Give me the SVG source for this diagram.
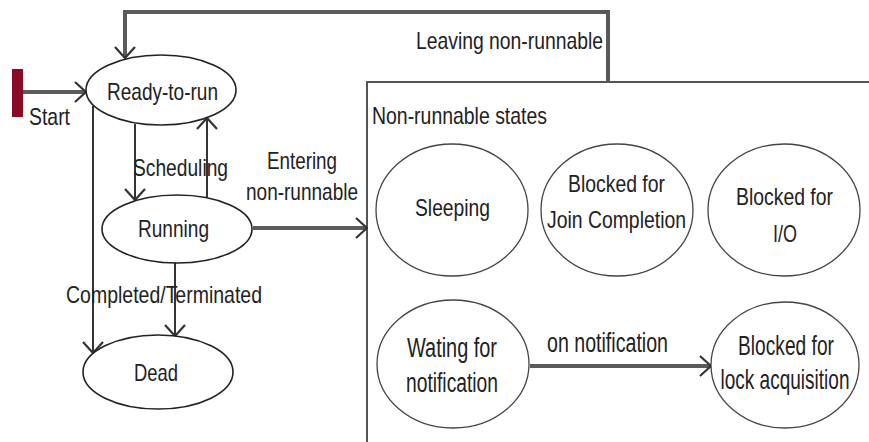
<svg xmlns="http://www.w3.org/2000/svg" width="869" height="442" viewBox="0 0 869 442">
<style>
.t{font-family:"Liberation Sans Narrow","Liberation Sans",Arial,sans-serif;font-size:24px;fill:#222}
.b{font-size:27px}
.n{font-family:"Liberation Sans",Arial,sans-serif;font-size:27px;fill:#222;text-anchor:middle}
.st{fill:#fff;stroke:#222;stroke-width:1.6}
.st2{fill:#fff;stroke:#444;stroke-width:1.3}
.thin{fill:none;stroke:#333;stroke-width:2}
.thick{fill:none;stroke:#5a5a5a;stroke-width:4}
.box{fill:#fff;stroke:#555;stroke-width:2}
</style>
<defs>
<marker id="ah" viewBox="0 0 13 22" refX="12" refY="11" markerWidth="13" markerHeight="22" markerUnits="userSpaceOnUse" orient="auto">
<path d="M1,1 L12,11 L1,21" fill="none" stroke="#333" stroke-width="2.2"/>
</marker>
</defs>
<rect width="869" height="442" fill="#fff"/>
<g id="container">
<path class="box" d="M367,442 V82 H869"/>
<text class="t" x="372" y="124" textLength="175" lengthAdjust="spacingAndGlyphs">Non-runnable states</text>
</g>
<g id="connectors">
<path class="thick" d="M23,92 H86" marker-end="url(#ah)"/>
<path class="thick" d="M608,82 V12 H125 V58" marker-end="url(#ah)"/>
<path class="thin" d="M135,124 V200" marker-end="url(#ah)"/>
<path class="thin" d="M207,198 V118" marker-end="url(#ah)"/>
<path class="thin" d="M93,106 V353" marker-end="url(#ah)"/>
<path class="thin" d="M175,263 V336" marker-end="url(#ah)"/>
<path class="thick" d="M253,228 H367" marker-end="url(#ah)"/>
<path class="thick" d="M530,366 H711" marker-end="url(#ah)"/>
<text class="t" x="29" y="125" textLength="41" lengthAdjust="spacingAndGlyphs">Start</text>
<text class="t" x="416" y="49" textLength="187" lengthAdjust="spacingAndGlyphs">Leaving non-runnable</text>
<text class="t" x="133" y="176" textLength="95" lengthAdjust="spacingAndGlyphs">Scheduling</text>
<text class="t" x="267" y="169" textLength="70" lengthAdjust="spacingAndGlyphs">Entering</text>
<text class="t" x="246" y="200" textLength="112" lengthAdjust="spacingAndGlyphs">non-runnable</text>
<text class="t" x="66" y="303" textLength="196" lengthAdjust="spacingAndGlyphs">Completed/Terminated</text>
<text class="t b" x="547" y="352" textLength="121" lengthAdjust="spacingAndGlyphs">on notification</text>
</g>
<g id="start">
<rect x="12" y="69" width="11" height="48" fill="#8b0a24"/>
</g>
<g id="ready">
<ellipse class="st" cx="161" cy="90" rx="75" ry="35"/>
<text class="t" x="107" y="100" textLength="111" lengthAdjust="spacingAndGlyphs">Ready-to-run</text>
</g>
<g id="running">
<ellipse class="st" cx="177" cy="229" rx="75" ry="34"/>
<text class="t" x="138" y="237" textLength="71" lengthAdjust="spacingAndGlyphs">Running</text>
</g>
<g id="dead">
<ellipse class="st" cx="158" cy="372" rx="75" ry="37"/>
<text class="t" x="134" y="381" textLength="44" lengthAdjust="spacingAndGlyphs">Dead</text>
</g>
<g id="sleeping">
<ellipse class="st2" cx="452" cy="210" rx="76" ry="66"/>
<text class="t" x="415" y="216" textLength="75" lengthAdjust="spacingAndGlyphs">Sleeping</text>
</g>
<g id="join">
<ellipse class="st2" cx="617" cy="210" rx="76" ry="66"/>
<text class="t" x="568" y="192" textLength="97" lengthAdjust="spacingAndGlyphs">Blocked for</text>
<text class="t" x="547" y="228" textLength="139" lengthAdjust="spacingAndGlyphs">Join Completion</text>
</g>
<g id="io">
<ellipse class="st2" cx="784" cy="210" rx="76" ry="66"/>
<text class="t" x="736" y="205" textLength="97" lengthAdjust="spacingAndGlyphs">Blocked for</text>
<text class="t" x="773" y="242" textLength="24" lengthAdjust="spacingAndGlyphs">I/O</text>
</g>
<g id="waiting">
<ellipse class="st2" cx="453" cy="364" rx="76" ry="64"/>
<text class="t b" x="407" y="357" textLength="90" lengthAdjust="spacingAndGlyphs">Wating for</text>
<text class="t b" x="406" y="392" textLength="92" lengthAdjust="spacingAndGlyphs">notification</text>
</g>
<g id="lock">
<ellipse class="st2" cx="785" cy="365" rx="74" ry="63"/>
<text class="n" transform="translate(786,355) scale(0.71,1)">Blocked for</text>
<text class="n" transform="translate(785,389) scale(0.705,1)">lock acquisition</text>
</g>
</svg>
